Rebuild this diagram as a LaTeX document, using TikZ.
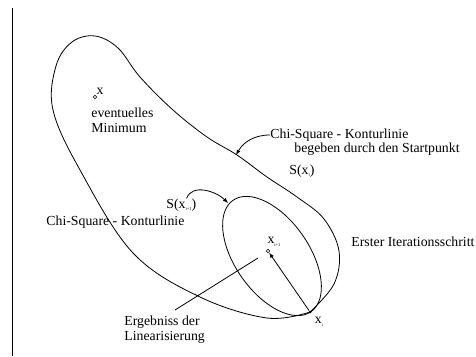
\documentclass[tikz,border=0pt]{standalone}
\usepackage{fontspec}
\setmainfont{Liberation Serif}
\usepackage{tikz}
\newcommand{\tinysub}[1]{\raisebox{-2.5pt}{\fontsize{4.5}{4.5}\selectfont #1}}

\begin{document}
\begin{tikzpicture}[>=latex, x=1pt, y=1pt, line width=0.8pt,
  every node/.style={font=\fontsize{13.8}{15}\selectfont, inner sep=0pt},
  txt/.style={anchor=west, align=left}]
\useasboundingbox (0,0) rectangle (476,356);
% left margin line
\draw[line width=1.3pt] (12.5,348) -- (12.5,0);

% points
\node[draw, circle, minimum size=3.5pt, line width=0.6pt] (xmin) at (95,259) {};
\node at (100,265) (xminlbl) {x};
\node[draw, circle, minimum size=3.5pt, line width=0.6pt] (xnext) at (268,105) {};
\node at (274,114) (xnextlbl) {x\tinysub{i+1}};
\node[fill, circle, minimum size=3pt] (xi) at (310,44) {};
\node at (319,34) (xilbl) {x\tinysub{i}};
\draw[->] (xi) -- (xnext);

% contour through the start point
\draw plot[smooth, tension=0.6] coordinates {(310,44) (267,38) (200,59) (133,103) (80,186) (53,246) (56,290) (72,314) (95,320) (118,308) (140,279) (173,246) (207,219) (237,201) (267,179) (297,159) (324,137) (339,105) (334,72) (310,44)};
% contour after the first step
\draw[rotate around={-55:(272,100)}] (272,100) ellipse [x radius=68, y radius=37];

% labels
\node[txt] (minlbl) at (91,235.5) {eventuelles\\Minimum};
\node[txt] (konturA) at (270,221) {Chi-Square - Konturlinie};
\node[txt] (konturB) at (294,207) {begeben durch den Startpunkt};
\node[txt] (sxi) at (289,185) {S(x\tinysub{i})};
\node[txt] (sxnext) at (166,151) {S(x\tinysub{i+1})};
\node[txt] (kontur) at (46,134) {Chi-Square - Konturlinie};
\node[txt] (iterlbl) at (351,114) {Erster Iterationsschritt};
\node[txt] (linlbl) at (124,26.5) {Ergebniss der\\Linearisierung};

% pointers
\coordinate (tipA) at (236,201);
\draw[->] (konturA.west) to[out=180, in=60] (tipA);
\coordinate (tipB) at (228,153);
\draw[->] (sxnext.north east) ++(-10,0) to[out=70, in=135] (tipB);
\coordinate (linstart) at (175,46);
\coordinate (linend) at (258,98);
\draw (linstart) -- (linend);
\end{tikzpicture}
\end{document}
